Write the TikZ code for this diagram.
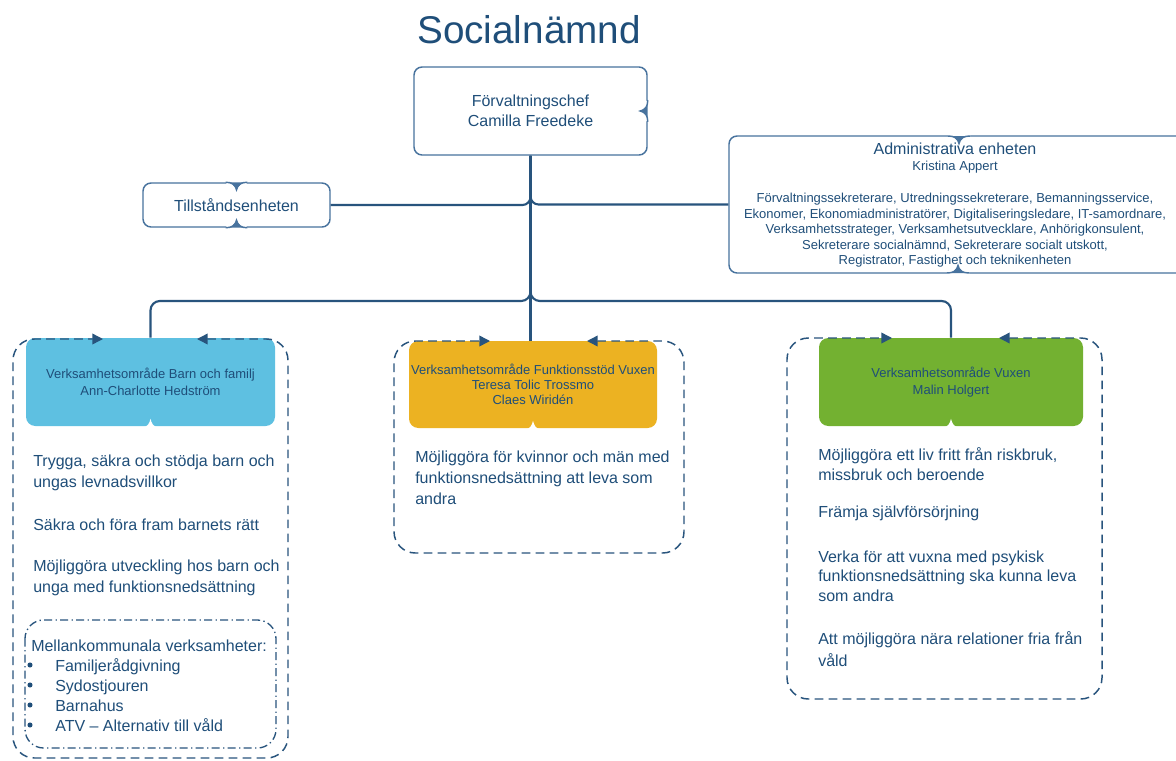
\documentclass[tikz,border=0pt]{standalone}
\usepackage{fontspec}
\setmainfont{Liberation Sans}
\usetikzlibrary{arrows.meta,calc}
\newdimen\pxu \pxu=0.75pt
\definecolor{txt}{RGB}{31,78,121}
\definecolor{bord}{RGB}{72,115,158}
\definecolor{connc}{RGB}{40,84,125}
\definecolor{barn}{RGB}{94,192,225}
\definecolor{funk}{RGB}{236,178,34}
\definecolor{vux}{RGB}{115,177,49}
\newcommand\fsmall{\fontsize{9.75}{12.4}\selectfont}
\newcommand\fbody{\fontsize{12}{15.3}\selectfont}
\tikzset{
  wbox/.style={draw=bord, line width=1.1pt, fill=white, rounded corners=6pt, inner sep=0pt, text=txt, align=center, font=\fbody},
  cbox/.style={rounded corners=7pt, inner sep=0pt, text=txt, align=center, font=\fsmall},
  connl/.style={draw=connc, line width=1.6pt},
  dcont/.style={draw=connc, line width=1.1pt, dash pattern=on 6.5pt off 4pt, rounded corners=16pt, {Triangle[length=8pt,width=8pt]}-{Triangle[length=8pt,width=8pt]}},
  ddot/.style={draw=connc, line width=1pt, dash pattern=on 6pt off 2.5pt on 1pt off 2.5pt, rounded corners=14pt},
  para/.style={text=txt, font=\fbody, align=left, anchor=west, inner sep=0pt},
  notch/.pic={
    \fill[white] (-11,-1.6) -- (11,-1.6) -- (11,0.6) -- (0,8.5) -- (-11,0.6) -- cycle;
    \draw[bord, line width=1.1pt] (-11,0) .. controls (-5,0) and (-1,2) .. (0,7.5) .. controls (1,2) and (5,0) .. (11,0);
    \fill[bord] (-6,0) -- (0,6.5) -- (6,0) -- cycle;
  },
  wnotch/.pic={
    \fill[white] (-8,1) .. controls (-3,1) and (-1,-3) .. (0,-7.5) .. controls (1,-3) and (3,1) .. (8,1) -- cycle;
  }
}
\begin{document}
\begin{tikzpicture}[x=0.75pt,y=-0.75pt]
\useasboundingbox (0,0) rectangle (1176,760);
\clip (0,0) rectangle (1176,760);
\fill[white] (0,0) rectangle (1176,760);

% title
\node[text=txt, font=\fontsize{29}{34}\selectfont, inner sep=0pt] (title) at (529,30) {Socialnämnd};

% top boxes
\node[wbox, minimum width=233\pxu, minimum height=88\pxu] (chef) at (530.5,111) {Förvaltningschef\\[-0.5pt]Camilla Freedeke};
\node[wbox, minimum width=187\pxu, minimum height=44\pxu] (till) at (236.5,205) {\raisebox{-1.5\pxu}{Tillståndsenheten}};
\node[wbox, minimum width=480\pxu, minimum height=137\pxu] (admin) at (969,204.5) {};
\node[text=txt, font=\fbody, inner sep=0pt] (admintitle) at (955,148.5) {Administrativa enheten};
\node[text=txt, font=\fsmall, inner sep=0pt] (adminname) at (955,167) {Kristina Appert};
\node[text=txt, font=\fontsize{9.75}{11.6}\selectfont, align=center, inner sep=0pt] (adminlist) at (955,230.5)
  {Förvaltningssekreterare, Utredningssekreterare, Bemanningsservice,\\
   Ekonomer, Ekonomiadministratörer, Digitaliseringsledare, IT-samordnare,\\
   Verksamhetsstrateger, Verksamhetsutvecklare, Anhörigkonsulent,\\
   Sekreterare socialnämnd, Sekreterare socialt utskott,\\
   Registrator, Fastighet och teknikenheten};

% connectors
\coordinate (j) at (530.5,301);
\coordinate (ju) at (530.5,280);
\draw[connl, rounded corners=6pt] (till.east) -| (chef.south);
\draw[connl, rounded corners=6pt] (admin.west) -| (chef.south);

% colored boxes
\node[cbox, fill=barn, minimum width=249\pxu, minimum height=88\pxu] (barnbox) at (150.5,382)
  {Verksamhetsområde Barn och familj\\[0.3pt]Ann-Charlotte Hedström};
\node[cbox, fill=funk, minimum width=248\pxu, minimum height=87\pxu] (funkbox) at (533,384.5)
  {Verksamhetsområde Funktionsstöd Vuxen\\[-1.2pt]Teresa Tolic Trossmo\\[-1.2pt]Claes Wiridén};
\node[cbox, fill=vux, minimum width=264\pxu, minimum height=88\pxu] (vuxbox) at (951,382)
  {Verksamhetsområde Vuxen\\[0.3pt]Malin Holgert};
\pic at (barnbox.south) {wnotch};
\pic at (funkbox.south) {wnotch};
\pic at (vuxbox.south) {wnotch};

\draw[connl] (chef.south) -- (chef.south |- funkbox.north);
\draw[connl, rounded corners=7pt] (barnbox.north) |- (j) -- (ju);
\draw[connl, rounded corners=7pt] (vuxbox.north) |- (j) -- (ju);

% notches on white boxes
\pic[rotate=-90] at (chef.east) {notch};
\pic at (till.north) {notch};
\pic[rotate=180] at (till.south) {notch};
\pic at (959,136) {notch};
\pic[rotate=180] at (958,273) {notch};

% dashed containers
\draw[dcont] (197,339) -- (288,339) -- (288,758) -- (13,758) -- (13,339) -- (103,339);
\draw[dcont] (587,341) -- (684,341) -- (684,553) -- (394,553) -- (394,341) -- (490,341);
\draw[dcont] (999,338) -- (1102,338) -- (1102,699) -- (787,699) -- (787,338) -- (892,338);

% left texts
\node[para] (b1) at (33,473) {Trygga, säkra och stödja barn och\\ungas levnadsvillkor};
\node[para] (b2) at (33,525) {Säkra och föra fram barnets rätt};
\node[para, font=\fontsize{12}{16}\selectfont] (b3) at (33,578) {Möjliggöra utveckling hos barn och\\unga med funktionsnedsättning};

\draw[ddot] (25,620) rectangle (276,748);
\node[para] (mk) at (31,646) {Mellankommunala verksamheter:};
\node[para, font=\fontsize{12}{15}\selectfont] (mklist) at (55,695) {Familjerådgivning\\Sydostjouren\\Barnahus\\ATV – Alternativ till våld};
\foreach \yy in {665,685,705,725} \fill[txt] (30,\yy) circle (1.9pt);

% middle text
\node[para, font=\fontsize{12}{15.8}\selectfont] (f1) at (415,478) {Möjliggöra för kvinnor och män med\\funktionsnedsättning att leva som\\andra};

% right texts
\node[para] (v1) at (818,464) {Möjliggöra ett liv fritt från riskbruk,\\missbruk och beroende};
\node[para] (v2) at (818,513) {Främja självförsörjning};
\node[para, font=\fontsize{12}{14.6}\selectfont] (v3) at (818,576) {Verka för att vuxna med psykisk\\funktionsnedsättning ska kunna leva\\som andra};
\node[para, font=\fontsize{12}{16}\selectfont] (v4) at (818,649) {Att möjliggöra nära relationer fria från\\våld};
\end{tikzpicture}
\end{document}
